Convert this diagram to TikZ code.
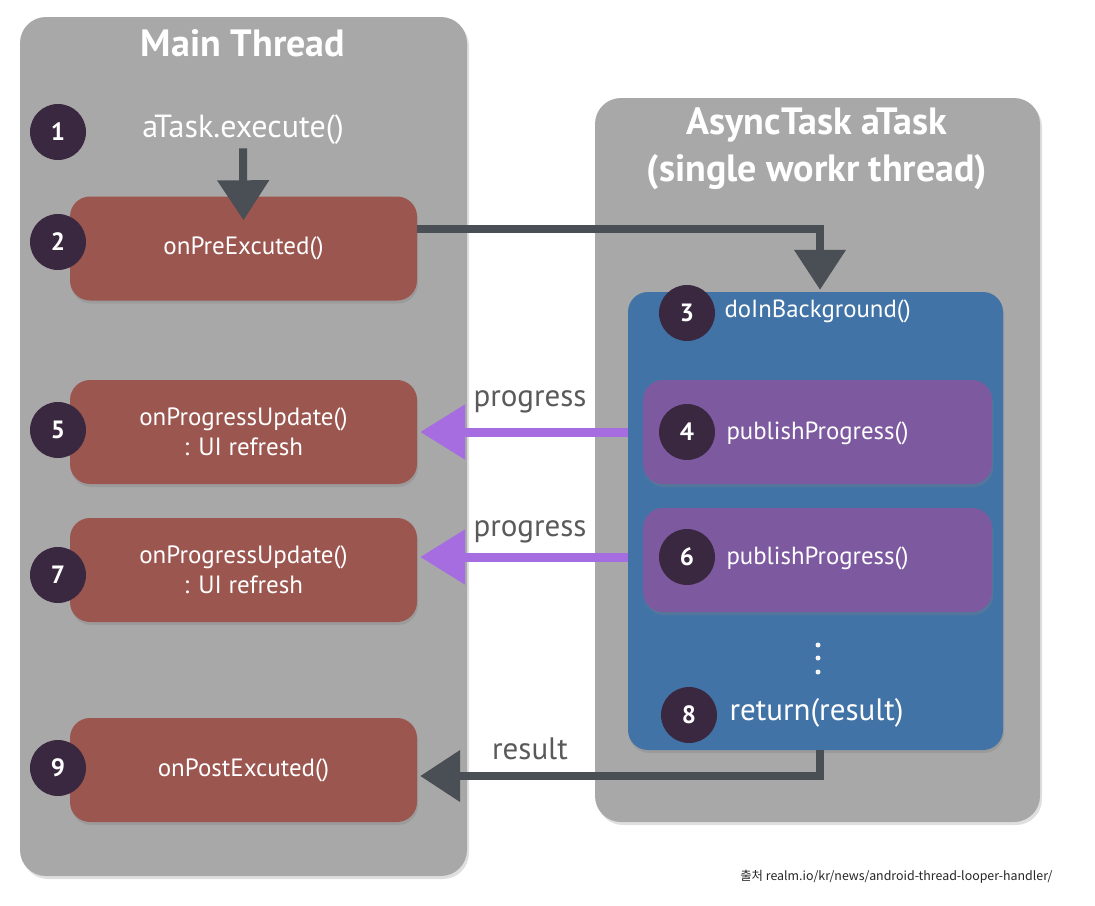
\documentclass[tikz,border=0pt]{standalone}
\usepackage{fontspec}
\setmainfont{PT Sans}
\newfontfamily\krfont{Noto Sans CJK KR}
\usetikzlibrary{arrows.meta,shadows,calc}
\definecolor{panelgray}{HTML}{A8A8A8}
\definecolor{boxred}{HTML}{9B5650}
\definecolor{circdark}{HTML}{3A2840}
\definecolor{bgblue}{HTML}{4273A6}
\definecolor{boxpurple}{HTML}{7D5AA0}
\definecolor{arrowdark}{HTML}{4A4F55}
\definecolor{arrowpurple}{HTML}{A66DE0}
\definecolor{labelgray}{HTML}{5A5A5A}
\tikzset{
  panel/.style={fill=panelgray, rounded corners=26pt, drop shadow={shadow xshift=2pt, shadow yshift=-3pt, opacity=0.25}},
  titletext/.style={text=white, font=\fontsize{38}{47}\selectfont\bfseries, align=center},
  redbox/.style={fill=boxred, rounded corners=20pt, minimum width=347pt, minimum height=104pt, text=white, align=center, font=\fontsize{25}{30}\selectfont, drop shadow={shadow xshift=1pt, shadow yshift=-3pt, opacity=0.3}},
  purplebox/.style={fill=boxpurple, rounded corners=20pt, minimum width=349pt, minimum height=104pt, drop shadow={shadow xshift=1pt, shadow yshift=-3pt, opacity=0.3}},
  bluebox/.style={fill=bgblue, rounded corners=20pt, minimum width=375pt, minimum height=458pt, drop shadow={shadow xshift=1pt, shadow yshift=-3pt, opacity=0.3}},
  numcirc/.style={circle, fill=circdark, minimum size=56pt, inner sep=0pt, text=white, font=\fontsize{25}{25}\selectfont\bfseries},
  wtext/.style={text=white, font=\fontsize{24.8}{28}\selectfont},
  gtext/.style={text=labelgray, font=\fontsize{31}{34}\selectfont},
  darrow/.style={draw=arrowdark, line width=8pt, -{Triangle[width=50pt,length=40pt]}},
  parrow/.style={draw=arrowpurple, line width=9pt, -{Triangle[width=53pt,length=45pt]}},
  dotc/.style={circle, fill=white!92!gray, minimum size=5pt, inner sep=0pt}
}
\begin{document}
\begin{tikzpicture}[x=1pt,y=-1pt]
\useasboundingbox (0,0) rectangle (1095,905);
\fill[white] (0,0) rectangle (1095,905);

% panels
\node[panel, minimum width=447pt, minimum height=859pt] (mainp) at (243.5,446.5) {};
\node[panel, minimum width=445pt, minimum height=724pt] (asyncp) at (817.5,460) {};

\node[titletext] (mt) at (243,43) {Main Thread};
\node[titletext] (at) at (817,149) {AsyncTask aTask\\(single workr thread)};

% main thread
\node[wtext, font=\fontsize{32}{34}\selectfont] (exec) at (243,130) {aTask.execute()};
\node[redbox] (pre) at (243.5,248.5) {onPreExcuted()};
\node[redbox] (p5) at (243.5,432) {onProgressUpdate()\\: UI refresh};
\node[redbox] (p7) at (243.5,570) {onProgressUpdate()\\: UI refresh};
\node[redbox] (p9) at (243.5,770) {onPostExcuted()};

% async
\node[bluebox] (bg) at (815.5,521) {};
\node[purplebox] (p4) at (817.5,432) {};
\node[purplebox] (p6) at (817.5,560) {};
\node[wtext, anchor=west] (t3) at (721,311) {doInBackground()};
\node[wtext, anchor=west] (t4) at (723,433) {publishProgress()};
\node[wtext, anchor=west] (t6) at (723,558) {publishProgress()};
\node[wtext, anchor=west, font=\fontsize{31}{34}\selectfont] (t8) at (726,713) {return(result)};
\node[dotc] (d1) at (818,645) {};
\node[dotc] (d2) at (818,658) {};
\node[dotc] (d3) at (818,672) {};

% number circles
\node[numcirc] (c1) at (58,132) {1};
\node[numcirc] (c2) at (58,242) {2};
\node[numcirc] (c5) at (58,430) {5};
\node[numcirc] (c7) at (58,575) {7};
\node[numcirc] (c9) at (58,768) {9};
\node[numcirc] (c3) at (687,313) {3};
\node[numcirc] (c4) at (687,432) {4};
\node[numcirc] (c6) at (687,557) {6};
\node[numcirc] (c8) at (689,715) {8};

% arrows
\draw[darrow] (exec.south) -- ([yshift=-24pt]pre.north);
\draw[darrow] ([yshift=20pt]pre.east) -| ([xshift=4.5pt,yshift=2pt]bg.north);
\draw[parrow] (bg.west |- c4) -- ([xshift=3pt]p5.east |- c4);
\draw[parrow] (bg.west |- c6) -- ([xshift=3pt]p7.east |- c6);
\draw[darrow] ([xshift=4.5pt]bg.south) |- ([xshift=3pt,yshift=-6pt]p9.east);

\node[gtext] (l1) at (530,402) {progress};
\node[gtext] (l2) at (530,532) {progress};
\node[gtext] (l3) at (530,749) {result};

\node[anchor=east, text=black!85, font=\krfont\fontsize{12.4}{14}\selectfont] (src) at (1056,877) {출처 realm.io/kr/news/android-thread-looper-handler/};
\end{tikzpicture}
\end{document}
